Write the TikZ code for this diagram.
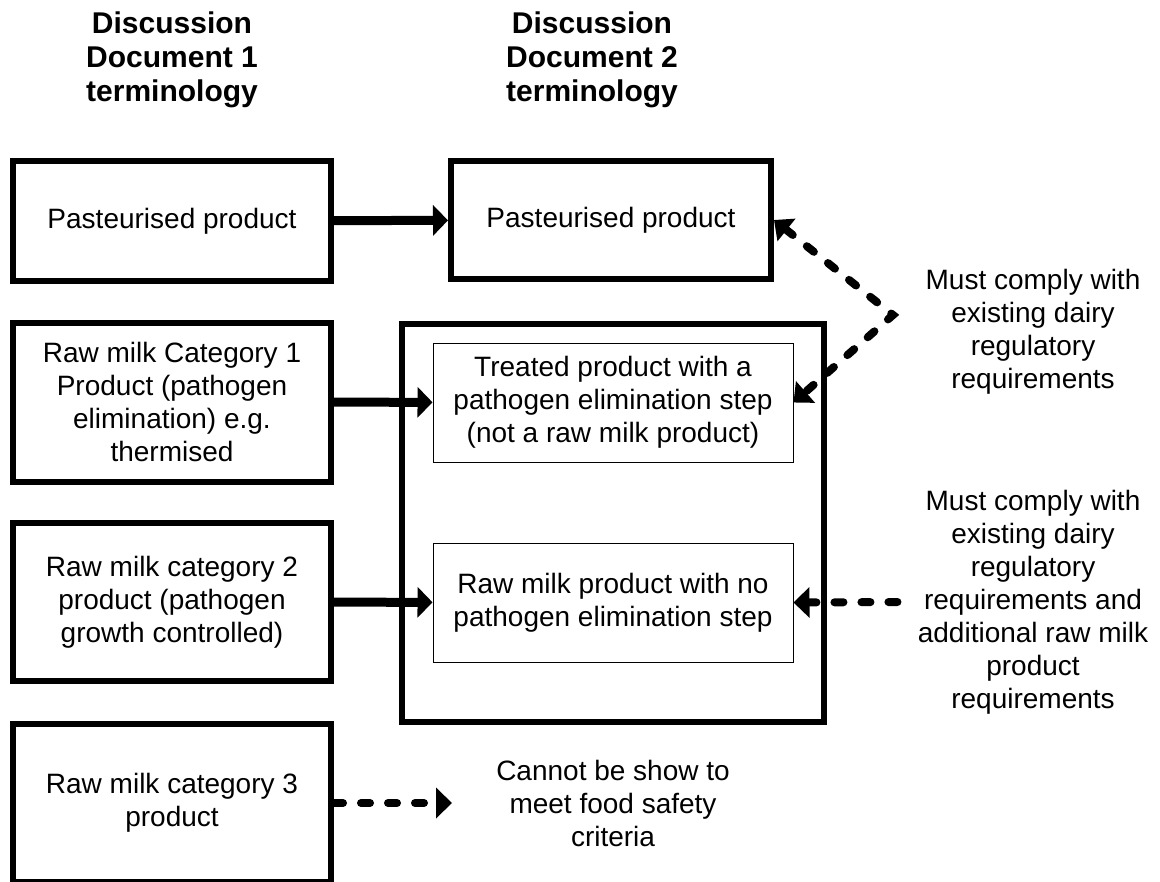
\documentclass[tikz,border=0pt]{standalone}
\usepackage{fontspec}
\setmainfont{Liberation Sans}
\newfontfamily\headfont{Liberation Sans}
\usetikzlibrary{arrows.meta}

\begin{document}
\begin{tikzpicture}[x=0.5pt,y=-0.5pt]
      \tikzset { termbox/.style = { draw,line width=3pt,align=center,font=\fontsize{14pt}{16.5pt}\selectfont,minimum width=159pt,minimum height=79pt } }
      \tikzset { subbox/.style = { draw,line width=0.5pt,align=center,font=\fontsize{14pt}{16.5pt}\selectfont,minimum width=180pt,minimum height=59.5pt } }
      \tikzset { note/.style = { align=center,font=\fontsize{14pt}{16.5pt}\selectfont } }
      \tikzset { head/.style = { align=center,font=\headfont\bfseries\fontsize{15pt}{17pt}\selectfont } }
      \tikzset { edge/.style = { line width=4.5pt,-{Triangle[length=7.5pt,width=15pt]} } }
      \tikzset { dashedge/.style = { line width=4pt,line cap=round,dash pattern=on 4.5pt off 9pt } }

      \useasboundingbox (0,0) rectangle (1160,882);

      % headings
      \node[head] (h1) at (172,60) {Discussion\\Document 1\\terminology};
      \node[head] (h2) at (592,60) {Discussion\\Document 2\\terminology};

      % left column
      \node[termbox,minimum height=60pt] (b1) at (172,221) {Pasteurised product};
      \node[termbox,minimum height=79.5pt] (b2) at (172,402) {Raw milk Category 1\\Product (pathogen\\elimination) e.g.\\thermised};
      \node[termbox] (b3) at (172,602) {Raw milk category 2\\product (pathogen\\growth controlled)};
      \node[termbox] (b4) at (172,803) {Raw milk category 3\\product};

      % right column
      \node[termbox,minimum width=160pt,minimum height=59pt] (p2) at (611,220) {Pasteurised product};
      \node[termbox,minimum width=211pt,minimum height=199pt] (grp) at (612.5,522.5) {};
      \node[subbox] (t2) at (613,402.5) {Treated product with a\\pathogen elimination step\\(not a raw milk product)};
      \node[subbox] (r2) at (613,602.5) {Raw milk product with no\\pathogen elimination step};

      % notes
      \node[note] (n1) at (1033,332) {Must comply with\\existing dairy\\regulatory\\requirements};
      \node[note,inner xsep=10pt] (n2) at (1033,602) {Must comply with\\existing dairy\\regulatory\\requirements and\\additional raw milk\\product\\requirements};
      \node[note] (n3) at (613,803) {Cannot be show to\\meet food safety\\criteria};
      \coordinate (kink) at (893,315);
      \coordinate (c3end) at (452,803);

      \draw[edge] (b1) to (p2);
      \draw[edge] (b2) to (t2);
      \draw[edge] (b3) to (r2);

      \draw[dashedge,{Triangle[length=8pt,width=14pt]}-{Triangle[length=8pt,width=14pt]}] (p2.east) -- (kink) -- (t2.east);
      \draw[dashedge,-{Triangle[length=8pt,width=15pt]}] (n2.west) -- (r2.east);
      \draw[dashedge,-{Triangle[length=8pt,width=15pt]}] (b4.east) -- (c3end);

    \end{tikzpicture}
\end{document}
